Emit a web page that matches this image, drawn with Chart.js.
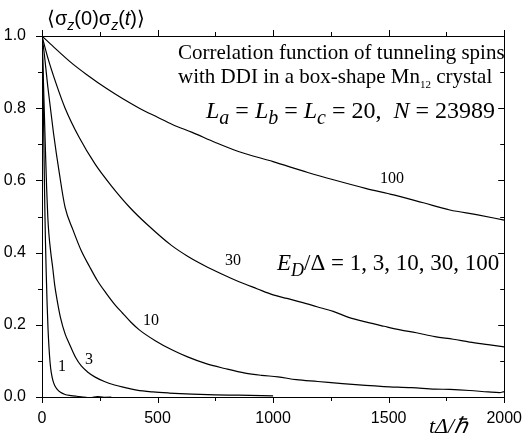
<!DOCTYPE html>
<html>
<head>
<meta charset="utf-8">
<script src="https://cdn.jsdelivr.net/npm/chart.js@4"></script>
<style>
  body { margin: 0; background: #fff; }
  #wrap { width: 526px; height: 443px; }
</style>
</head>
<body>
<div id="wrap"><canvas id="myChart" width="526" height="443"></canvas></div>
<script>
// values, one pair of arrays per curve (E_D/Delta)
const t1 = [0, 3, 6, 9, 12, 15, 18, 22, 26, 30, 35, 40, 47, 55, 65, 80, 100, 125, 150, 180, 210, 240, 270, 300];
const v1 = [1, 0.93, 0.80, 0.66, 0.53, 0.43, 0.35, 0.26, 0.19, 0.14, 0.095, 0.068, 0.046, 0.032, 0.022, 0.013, 0.007, 0.004, 0.002, 0.0, -0.002, 0.001, -0.001, 0.0];

const t3 = [0, 5, 10, 15, 20, 25, 30, 38, 46, 55, 65, 80, 100, 120, 145, 170, 200, 230, 270, 310, 360, 410, 480, 550, 650, 750, 850, 1000];
const v3 = [1, 0.90, 0.79, 0.68, 0.58, 0.50, 0.45, 0.40, 0.36, 0.31, 0.27, 0.22, 0.175, 0.145, 0.11, 0.086, 0.068, 0.055, 0.043, 0.034, 0.026, 0.019, 0.014, 0.011, 0.008, 0.006, 0.005, 0.003];

const t10 = [0, 10, 25, 50, 75, 100, 134, 170, 206, 240, 278, 315, 349, 385, 421, 490, 564, 630, 707, 790, 879, 950, 1021, 1100, 1193, 1300, 1400, 1479, 1600, 1700, 1765, 1850, 1930, 1980, 2000];
const v10 = [1, 0.95, 0.86, 0.73, 0.62, 0.525, 0.463, 0.405, 0.361, 0.322, 0.287, 0.256, 0.232, 0.207, 0.186, 0.156, 0.130, 0.111, 0.093, 0.079, 0.066, 0.060, 0.056, 0.048, 0.043, 0.037, 0.032, 0.029, 0.026, 0.022, 0.021, 0.018, 0.014, 0.012, 0.015];

const t30 = [0, 25, 60, 100, 160, 230, 300, 380, 460, 560, 630, 700, 780, 850, 930, 1000, 1060, 1120, 1190, 1260, 1330, 1400, 1480, 1550, 1620, 1700, 1780, 1850, 1930, 2000];
const v30 = [1, 0.94, 0.87, 0.80, 0.72, 0.645, 0.585, 0.525, 0.475, 0.42, 0.39, 0.365, 0.34, 0.32, 0.30, 0.283, 0.273, 0.263, 0.25, 0.237, 0.22, 0.208, 0.196, 0.186, 0.178, 0.167, 0.160, 0.152, 0.145, 0.139];

const t100 = [0, 50, 134, 200, 278, 350, 421, 500, 564, 650, 750, 850, 1000, 1150, 1265, 1400, 1522, 1650, 1765, 1880, 2000];
const v100 = [1, 0.97, 0.922, 0.89, 0.855, 0.826, 0.80, 0.775, 0.755, 0.733, 0.705, 0.68, 0.652, 0.622, 0.601, 0.578, 0.560, 0.538, 0.518, 0.505, 0.490];

const xTicks = [0, 500, 1000, 1500, 2000];
const yTicks = [0.0, 0.2, 0.4, 0.6, 0.8, 1.0];

const serif = '"Liberation Serif", "Times New Roman", serif';
const sans = '"Liberation Sans", Arial, sans-serif';

function pts(t, v) {
    return t.map((x, i) => ({ x: x, y: v[i] }));
}

function line(t, v) {
    return {
        data: pts(t, v),
        borderColor: '#000',
        borderWidth: 1.2,
        pointRadius: 0,
        fill: false,
        cubicInterpolationMode: 'monotone'
    };
}

// draws a run of text pieces with their own fonts, left to right
function rich(ctx, x, y, parts) {
    let cx = x;
    for (const p of parts) {
        ctx.font = p.f;
        ctx.fillText(p.s, cx, y + (p.dy || 0));
        cx += ctx.measureText(p.s).width;
    }
}

const frame = {
    id: 'frame',
    afterDraw: (chart) => {
        const ctx = chart.ctx;
        const a = chart.chartArea;
        const xs = chart.scales.x, ys = chart.scales.y;
        ctx.save();
        ctx.strokeStyle = '#000';
        ctx.lineWidth = 1;
        ctx.strokeRect(Math.round(a.left) + 0.5, Math.round(a.top) + 0.5,
            Math.round(a.right - a.left), Math.round(a.bottom - a.top));
        ctx.beginPath();
        for (let v = 0; v <= 2000; v += 250) {
            const px = Math.round(xs.getPixelForValue(v)) + 0.5;
            const len = v % 500 === 0 ? 6 : 4;
            ctx.moveTo(px, a.bottom); ctx.lineTo(px, a.bottom + len);
            ctx.moveTo(px, a.top); ctx.lineTo(px, a.top - len);
        }
        for (let i = 0; i <= 10; i++) {
            const py = Math.round(ys.getPixelForValue(i / 10)) + 0.5;
            const len = i % 2 === 0 ? 6 : 4;
            ctx.moveTo(a.left, py); ctx.lineTo(a.left - len, py);
            ctx.moveTo(a.right, py); ctx.lineTo(a.right - len, py);
        }
        ctx.stroke();

        ctx.fillStyle = '#000';
        ctx.textBaseline = 'alphabetic';
        ctx.textAlign = 'left';

        // y title
        rich(ctx, 47, 25, [
            { s: '\u27E8\u03C3', f: '20px ' + sans },
            { s: 'z', f: 'italic 14px ' + sans, dy: 5 },
            { s: '(0)\u03C3', f: '20px ' + sans },
            { s: 'z', f: 'italic 14px ' + sans, dy: 5 },
            { s: '(', f: '20px ' + sans },
            { s: 't', f: 'italic 20px ' + sans },
            { s: ')\u27E9', f: '20px ' + sans }
        ]);

        // x title
        rich(ctx, 429, 433, [
            { s: 't\u0394/\u210F', f: 'italic 22px ' + serif }
        ]);

        // caption
        rich(ctx, 178, 59, [{ s: 'Correlation function of tunneling spins', f: '21px ' + serif }]);
        rich(ctx, 178, 83, [
            { s: 'with DDI in a box-shape Mn', f: '21px ' + serif },
            { s: '12', f: '11px ' + serif, dy: 5 },
            { s: ' crystal', f: '21px ' + serif }
        ]);
        rich(ctx, 206, 118, [
            { s: 'L', f: 'italic 24px ' + serif },
            { s: 'a', f: 'italic 20px ' + serif, dy: 6 },
            { s: ' = ', f: '24px ' + serif },
            { s: 'L', f: 'italic 24px ' + serif },
            { s: 'b', f: 'italic 20px ' + serif, dy: 6 },
            { s: ' = ', f: '24px ' + serif },
            { s: 'L', f: 'italic 24px ' + serif },
            { s: 'c', f: 'italic 20px ' + serif, dy: 6 },
            { s: ' = 20,  ', f: '24px ' + serif },
            { s: 'N', f: 'italic 24px ' + serif },
            { s: ' = 23989', f: '24px ' + serif }
        ]);
        rich(ctx, 277, 270, [
            { s: 'E', f: 'italic 23px ' + serif },
            { s: 'D', f: 'italic 18px ' + serif, dy: 6 },
            { s: '/\u0394 = 1, 3, 10, 30, 100', f: '23px ' + serif }
        ]);

        // curve labels
        ctx.font = '16px ' + serif;
        ctx.textAlign = 'center';
        ctx.fillText('100', 392, 183);
        ctx.fillText('30', 233, 265);
        ctx.fillText('10', 151, 325);
        ctx.fillText('3', 89, 364);
        ctx.fillText('1', 62, 371);
        ctx.restore();
    }
};

const configuration = {
    type: 'line',
    data: {
        datasets: [
            line(t1, v1),
            line(t3, v3),
            line(t10, v10),
            line(t30, v30),
            line(t100, v100)
        ]
    },
    options: {
        responsive: false,
        animation: false,
        layout: { padding: { top: 36, right: 18, left: 0, bottom: 0 } },
        plugins: { legend: { display: false }, tooltip: { enabled: false } },
        scales: {
            x: {
                type: 'linear',
                min: 0,
                max: 2000,
                grid: { display: false },
                border: { display: false },
                afterFit: (s) => { s.height = 46; },
                afterBuildTicks: (s) => { s.ticks = xTicks.map(v => ({ value: v })); },
                ticks: {
                    padding: 4,
                    maxRotation: 0,
                    color: '#000',
                    font: { family: sans, size: 16 },
                    callback: (v) => String(v)
                }
            },
            y: {
                type: 'linear',
                min: 0,
                max: 1,
                grid: { display: false },
                border: { display: false },
                afterFit: (s) => { s.width = 42; },
                afterBuildTicks: (s) => { s.ticks = yTicks.map(v => ({ value: v })); },
                ticks: {
                    padding: 8,
                    color: '#000',
                    font: { family: sans, size: 16 },
                    callback: (v) => Number(v).toFixed(1)
                }
            }
        }
    },
    plugins: [frame]
};

const chart = new Chart(document.getElementById('myChart'), configuration);
</script>
</body>
</html>
